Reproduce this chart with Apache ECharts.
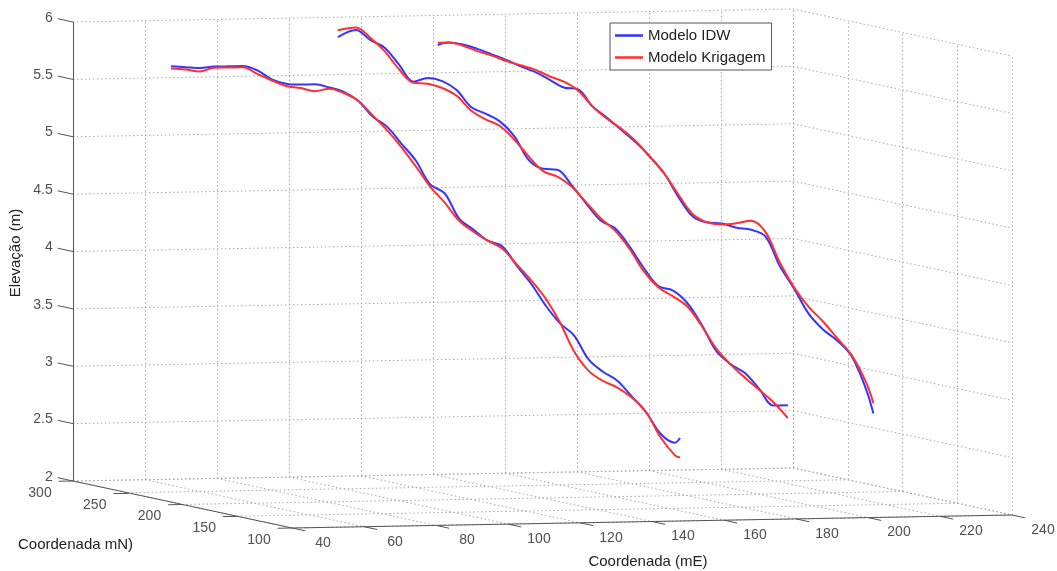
<!DOCTYPE html>
<html><head><meta charset="utf-8">
<script src="https://cdn.jsdelivr.net/npm/echarts@6/dist/echarts.min.js"></script>
<style>html,body{margin:0;padding:0;background:#fff}#c{width:1057px;height:571px}</style>
</head><body><div id="c"></div>
<script>
// ---- tick values ----
const elevTicks = [2, 2.5, 3, 3.5, 4, 4.5, 5, 5.5, 6];
const mETicks = [40, 60, 80, 100, 120, 140, 160, 180, 200, 220, 240];
const mNTicks = [100, 150, 200, 250, 300];
const seriesNames = ['Modelo IDW', 'Modelo Krigagem'];

// ---- perfil 1 (mN constante) ----
const p1N = 250;
const p1E = [52,56,60,64,68,72,76,80,84,88,92,96,100,104,108,112,116,120,124,128,132,136,140,144,148,152,156,160,164,168,172,176,180,184,188,192,193.4];
const p1IDW = [5.71,5.70,5.69,5.70,5.70,5.70,5.66,5.58,5.54,5.53,5.53,5.50,5.46,5.38,5.24,5.15,5.00,4.85,4.64,4.56,4.34,4.24,4.14,4.09,3.92,3.76,3.57,3.41,3.30,3.09,2.98,2.90,2.76,2.62,2.43,2.35,2.39];
const p1Krig = [5.69,5.68,5.66,5.69,5.69,5.69,5.63,5.57,5.52,5.50,5.47,5.49,5.45,5.38,5.25,5.12,4.97,4.80,4.62,4.48,4.32,4.22,4.14,4.07,3.93,3.79,3.63,3.42,3.16,2.99,2.90,2.84,2.75,2.62,2.40,2.24,2.22];

// ---- perfil 2 ----
const p2N = 285;
const p2E = [109,114,118,122,126,130,134,138,142,146,150,154,158,162,166,170,174,178,182,186,190,194,198,202,206,210,214,218,222,226,230,234];
const p2IDW = [5.86,5.92,5.83,5.76,5.61,5.46,5.49,5.46,5.38,5.23,5.17,5.10,4.97,4.76,4.68,4.67,4.53,4.37,4.22,4.15,3.99,3.80,3.64,3.60,3.49,3.30,3.07,2.95,2.87,2.73,2.58,2.58];
const p2Krig = [5.92,5.94,5.85,5.73,5.57,5.45,5.44,5.40,5.33,5.20,5.12,5.06,4.94,4.79,4.66,4.61,4.52,4.38,4.24,4.13,3.97,3.77,3.63,3.55,3.46,3.29,3.09,2.95,2.83,2.72,2.61,2.47];

// ---- perfil 3 ----
const p3N = 220;
const p3E = [117,120,124,128,132,136,140,144,148,152,156,160,164,168,172,176,180,184,188,192,196,200,204,208,212,216,220,224,228,232,236,238];
const p3IDW = [5.92,5.94,5.92,5.88,5.83,5.78,5.72,5.67,5.60,5.53,5.51,5.36,5.26,5.15,5.04,4.91,4.76,4.55,4.38,4.33,4.32,4.28,4.26,4.20,3.94,3.74,3.52,3.38,3.28,3.14,2.85,2.64];
const p3Krig = [5.94,5.94,5.91,5.86,5.82,5.77,5.73,5.69,5.63,5.58,5.50,5.36,5.25,5.16,5.05,4.91,4.76,4.57,4.40,4.33,4.31,4.32,4.34,4.24,3.97,3.75,3.58,3.45,3.30,3.15,2.91,2.73];

// ---- 3D view (orthographic projection onto the hidden 2D value axes) ----
const eMin = mETicks[0], eMax = mETicks[mETicks.length - 1];
const nMin = mNTicks[0], nMax = mNTicks[mNTicks.length - 1];
const zMin = elevTicks[0], zMax = elevTicks[elevTicks.length - 1];
const VIEW = { ox: 73, oy: 481, ex: 3.6, ey: -0.065, nx: 1.095, ny: 0.235, zy: -114.75 };
function P(e, n, z) {
  return [VIEW.ox + (e - eMin) * VIEW.ex + (nMax - n) * VIEW.nx,
          VIEW.oy + (e - eMin) * VIEW.ey + (nMax - n) * VIEW.ny + (z - zMin) * VIEW.zy];
}

const FONT = 'Liberation Sans, Arial, Helvetica, sans-serif';
const BLUE = '#3535ff', RED = '#ff3030';

// grid segments
const gridSegs = [];
mETicks.forEach(e => gridSegs.push([P(e, nMax, zMin), P(e, nMax, zMax)]));
elevTicks.forEach(z => gridSegs.push([P(eMin, nMax, z), P(eMax, nMax, z)]));
mNTicks.forEach(n => gridSegs.push([P(eMax, n, zMin), P(eMax, n, zMax)]));
elevTicks.forEach(z => gridSegs.push([P(eMax, nMax, z), P(eMax, nMin, z)]));
mETicks.forEach(e => gridSegs.push([P(e, nMax, zMin), P(e, nMin, zMin)]));
mNTicks.forEach(n => gridSegs.push([P(eMin, n, zMin), P(eMax, n, zMin)]));

// axis lines and ticks
const axisSegs = [
  [P(eMin, nMax, zMin), P(eMin, nMax, zMax)],
  [P(eMin, nMax, zMin), P(eMin, nMin, zMin)],
  [P(eMin, nMin, zMin), P(eMax, nMin, zMin)]
];
elevTicks.forEach(z => axisSegs.push([P(eMin, nMax, z), P(eMin, nMax + 14, z)]));
mNTicks.forEach(n => axisSegs.push([P(eMin, n, zMin), P(eMin - 4, n, zMin)]));
mETicks.forEach(e => axisSegs.push([P(e, nMin, zMin), P(e, nMin - 12, zMin)]));

function profile(E, N, Z) { return E.map((e, i) => P(e, N, Z[i])); }

const zLabels = elevTicks.map(z => P(eMin, nMax + 18, z).concat([String(z)]));
const nLabels = mNTicks.map(n => P(eMin, n, zMin).concat([String(n)]));
const eLabels = mETicks.map(e => P(e, nMin, zMin).concat([String(e)]));

function labelSeries(data, label) {
  return {
    type: 'scatter', data: data, symbolSize: 1, silent: true,
    itemStyle: { color: 'rgba(0,0,0,0)' },
    label: Object.assign({ show: true, formatter: p => p.data[2], color: '#222', fontSize: 14, fontFamily: FONT }, label)
  };
}
function lineSeries(name, data, color) {
  return { type: 'line', name: name, data: data, symbol: 'none', showSymbol: false, smooth: 0.35,
           lineStyle: { color: color, width: 2 }, itemStyle: { color: color } };
}

const option = {
  animation: false,
  backgroundColor: '#fff',
  grid: { left: 0, right: 0, top: 0, bottom: 0 },
  xAxis: { type: 'value', min: 0, max: 1057, show: false },
  yAxis: { type: 'value', min: 0, max: 571, inverse: true, show: false },
  legend: {
    data: seriesNames.map(n => ({ name: n, icon: 'rect' })), orient: 'vertical', left: 610, top: 23,
    itemWidth: 28, itemHeight: 2.5, itemGap: 7, padding: [5, 6, 5, 5],
    backgroundColor: '#fff', borderColor: '#555', borderWidth: 1,
    textStyle: { fontSize: 15, color: '#222', fontFamily: FONT }
  },
  graphic: [
    { type: 'text', x: 16, y: 253, rotation: Math.PI / 2,
      style: { text: 'Elevação (m)', fill: '#222', font: '15px ' + FONT, align: 'center', verticalAlign: 'middle' } },
    { type: 'text', x: 648, y: 562,
      style: { text: 'Coordenada (mE)', fill: '#222', font: '15px ' + FONT, align: 'center', verticalAlign: 'middle' } },
    { type: 'text', x: 18, y: 545,
      style: { text: 'Coordenada mN)', fill: '#222', font: '15px ' + FONT, align: 'left', verticalAlign: 'middle' } }
  ],
  series: [
    { type: 'lines', coordinateSystem: 'cartesian2d', silent: true, z: 1,
      data: gridSegs.map(s => ({ coords: s })),
      lineStyle: { color: '#a8a8a8', width: 1, type: [1.5, 2.5], opacity: 1 } },
    { type: 'lines', coordinateSystem: 'cartesian2d', silent: true, z: 2,
      data: axisSegs.map(s => ({ coords: s })),
      lineStyle: { color: '#555', width: 1, opacity: 1 } },
    labelSeries(zLabels, { position: 'left', distance: 0 }),
    labelSeries(nLabels, { position: 'inside', offset: [-33, 12] }),
    labelSeries(eLabels, { position: 'inside', offset: [31, 15] }),
    lineSeries(seriesNames[0], profile(p1E, p1N, p1IDW), BLUE),
    lineSeries(seriesNames[1], profile(p1E, p1N, p1Krig), RED),
    lineSeries(seriesNames[0], profile(p2E, p2N, p2IDW), BLUE),
    lineSeries(seriesNames[1], profile(p2E, p2N, p2Krig), RED),
    lineSeries(seriesNames[0], profile(p3E, p3N, p3IDW), BLUE),
    lineSeries(seriesNames[1], profile(p3E, p3N, p3Krig), RED)
  ]
};
const chart = echarts.init(document.getElementById('c'));
chart.setOption(option);
</script>
</body></html>
